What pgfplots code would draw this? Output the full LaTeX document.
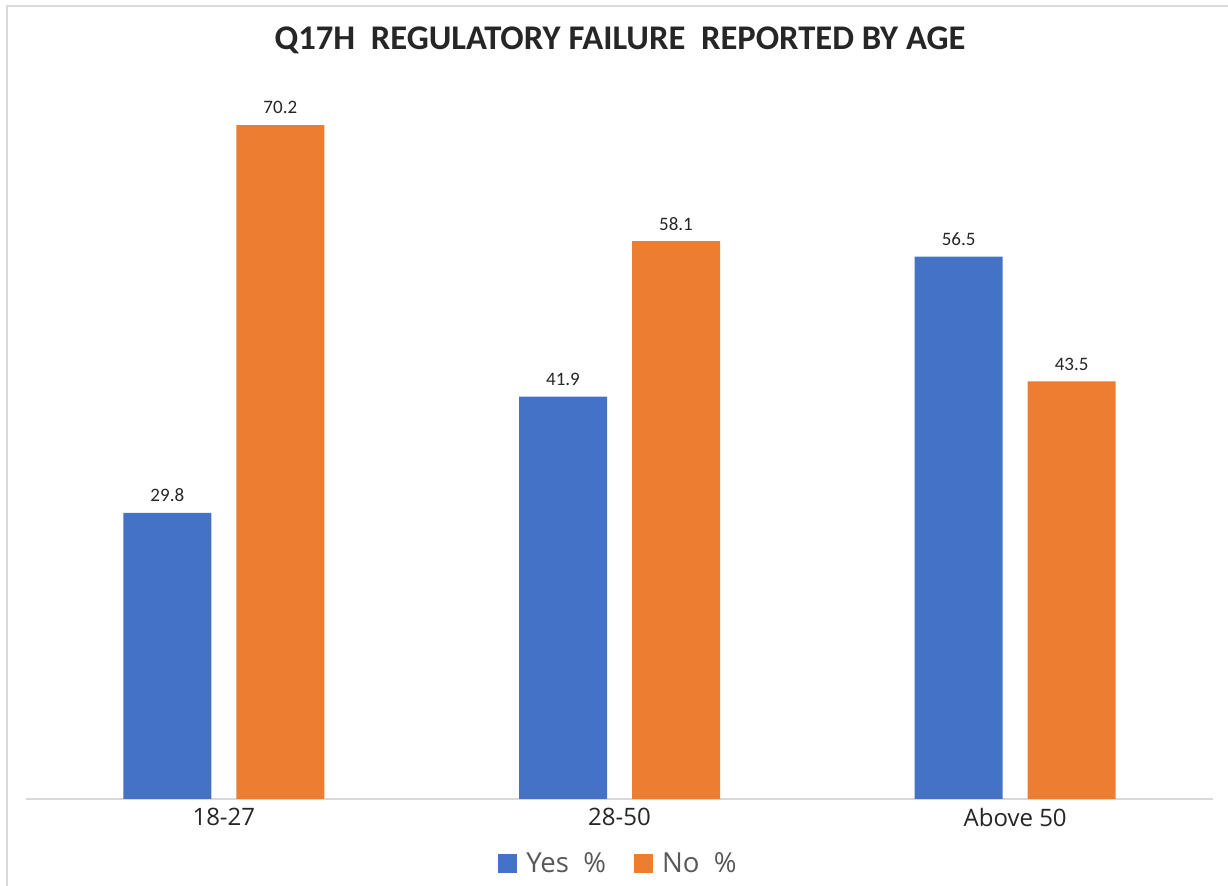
\documentclass[border=0pt]{standalone}
\usepackage{fontspec}
\setmainfont{Carlito}
\newfontfamily\osans{Open Sans}
\usepackage{pgfplots}
\pgfplotsset{compat=1.18}
\definecolor{yesblue}{HTML}{4472C4}
\definecolor{noorange}{HTML}{ED7D31}
\definecolor{lightgray}{HTML}{D9D9D9}
\definecolor{txtdark}{HTML}{262626}
\definecolor{txtgray}{HTML}{595959}

\begin{document}
\begin{tikzpicture}
\begin{axis}[
  scale only axis,
  width=593.5pt, height=360pt,
  xmin=-0.5, xmax=2.5, ymin=0, ymax=75,
  axis x line=bottom, axis y line=none,
  x axis line style={lightgray, line width=0.8pt, -},
  xtick={0,1,2},
  xticklabels={18-27,28-50,Above 50},
  major tick length=0pt,
  ytick=\empty,
  xticklabel style={font=\osans\fontsize{12}{14}\selectfont, text=txtdark, yshift=-1pt},
  ybar, bar width=44pt,
  nodes near coords,
  point meta=explicit symbolic,
  every node near coord/.append style={font=\fontsize{9.5}{11}\selectfont, text=txtdark, yshift=2pt},
  legend columns=2,
  legend image code/.code={\fill[#1] (0pt,-4.75pt) rectangle (9.5pt,4.75pt); \path (12pt,0pt);},
  legend style={at={(axis description cs:0.5,-0.09)}, anchor=center, draw=none,
    font=\osans\fontsize{13.8}{16}\selectfont, text=txtgray,
    /tikz/every even column/.append style={column sep=12pt}},
]
\addplot[fill=yesblue, draw=none, bar shift=-28.25pt] coordinates {
  (0,29.8) [29.8]
  (1,41.9) [41.9]
  (2,56.5) [56.5]
};
\addplot[fill=noorange, draw=none, bar shift=28.25pt] coordinates {
  (0,70.2) [70.2]
  (1,58.1) [58.1]
  (2,43.5) [43.5]
};
\legend{Yes\ \ \%, No\ \ \%}
\end{axis}
\node[font=\bfseries\fontsize{17.3}{20}\selectfont, text=txtdark] at (297pt,379.5pt)
  {Q17H\ \ REGULATORY FAILURE\ \ REPORTED BY AGE};
\pgfresetboundingbox
\useasboundingbox (-13pt,-43.5pt) rectangle (601pt,399.5pt);
\draw[lightgray, line width=1pt] (-9.5pt,-43.5pt) -- (-9.5pt,396.5pt) -- (601pt,396.5pt);
\end{tikzpicture}
\end{document}
